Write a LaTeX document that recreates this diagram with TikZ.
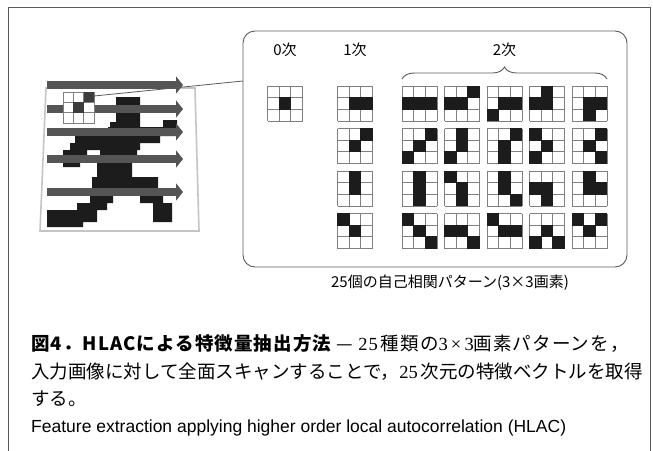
\documentclass[tikz,border=0pt]{standalone}
\usepackage{fontspec}
\setmainfont{Liberation Sans}
\newfontfamily\jp{Noto Sans CJK JP}
\newfontfamily\jpwide{Noto Sans CJK JP}[LetterSpace=6]
\newfontfamily\mincho{Liberation Serif}
\newfontfamily\minchowide{Liberation Serif}[LetterSpace=6]
\usetikzlibrary{arrows.meta,positioning,decorations.pathreplacing}
\definecolor{rulegray}{HTML}{5A5A5A}
\definecolor{gridgray}{HTML}{808080}
\definecolor{scangray}{HTML}{555555}
\definecolor{pixblack}{HTML}{1C1C1C}
\definecolor{wingray}{HTML}{3C3C3C}
\definecolor{photoedge}{HTML}{C4C4C4}
\newcommand\cellw{11.67}
\tikzset{
  % 枠
  outer/.style={draw=rulegray,line width=1pt},
  panel/.style={draw=rulegray,line width=0.9pt,rounded corners=12pt,
                minimum width=384pt,minimum height=236pt,inner sep=0pt},
  photo/.style={draw=photoedge,fill=white,line width=1.6pt},
  % 走査矢印
  scan/.style={draw=scangray,line width=8pt,-{Triangle[length=7pt,width=17pt]}},
  zoomline/.style={draw=rulegray,line width=0.8pt},
  % パターン
  gridline/.style={draw=gridgray,line width=0.9pt},
  brace2/.style={draw=rulegray,line width=0.9pt,
                 decorate,decoration={brace,amplitude=12pt}},
  % 文字
  ordlbl/.style={font=\jp\fontsize{15}{15}\selectfont,inner sep=0pt},
  panelcap/.style={font=\jp\fontsize{15}{16}\selectfont,inner sep=0pt},
  capjp/.style={font=\jp\fontsize{18.5}{18.5}\selectfont,inner sep=0pt,anchor=west},
  capen/.style={font=\fontsize{17.5}{17.5}\selectfont,inner sep=0pt,anchor=west},
}
% 3x3 の自己相関パターン: #1,#2 = 左上, #3 = 黒画素 (1..9)
\newcommand\hlacpat[3]{%
  \fill[white] (#1,#2) rectangle ++(3*\cellw,3*\cellw);
  \foreach \c in {0,1,2,3}{%
    \draw[gridline] ({#1+\c*\cellw},#2) -- ++(0,3*\cellw);
    \draw[gridline] (#1,{#2+\c*\cellw}) -- ++(3*\cellw,0);
  }%
  \foreach \k in {#3}{%
    \pgfmathtruncatemacro\pcol{mod(\k-1,3)}%
    \pgfmathtruncatemacro\prow{div(\k-1,3)}%
    \fill[pixblack] ({#1+\pcol*\cellw-0.45},{#2+\prow*\cellw-0.45})
      rectangle ++(\cellw+0.9,\cellw+0.9);
  }%
}

\begin{document}
\begin{tikzpicture}[x=1pt,y=-1pt]
  \useasboundingbox (0,0) rectangle (653,450);
  % 外枠
  \draw[outer] (8,451) -- (8,7.5) -- (650.5,7.5) -- (650.5,451);

  % 入力画像 (走る人)
  \draw[photo] (46,88) -- (195,88) -- (199,231) -- (40,231) -- cycle;
  \fill[pixblack]
    (116,97) rectangle (140,123)   % 頭
    (110,122) rectangle (140,128)
    (163,120) rectangle (177,130)  % 右手
    (150,127) rectangle (177,136)
    (108,127) rectangle (165,136)
    (75,136) rectangle (160,143)
    (70,143) rectangle (140,150)   % 左腕
    (63,150) rectangle (87,160)
    (63,160) rectangle (80,167)
    (100,150) rectangle (137,160)  % 胴
    (97,160) rectangle (132,177)
    (92,177) rectangle (158,188)   % 腰と右脚
    (140,188) rectangle (163,203)
    (153,203) rectangle (172,222)
    (90,188) rectangle (113,203)   % 左脚
    (77,203) rectangle (107,210)
    (47,210) rectangle (97,222)
    (47,222) rectangle (83,227);

  % 走査
  \foreach \y [count=\i] in {85,109,132,159,192}{
    \coordinate (scanL\i) at (47,\y);
    \coordinate (scanR\i) at (183,\y);
    \draw[scan] (scanL\i) -- (scanR\i);
  }

  % 3x3 の窓
  \foreach \k in {1,...,9}{
    \pgfmathtruncatemacro\pcol{mod(\k-1,3)}
    \pgfmathtruncatemacro\prow{div(\k-1,3)}
    \coordinate (win\k) at ({63+\pcol*10.3},{92+\prow*10.3});
    \draw[draw=gridgray,line width=0.8pt,fill=white] (win\k) rectangle ++(10.3,10.3);
  }
  \fill[wingray] (win3) rectangle ++(10.3,10.3);
  \fill[wingray] (win5) rectangle ++(10.3,10.3);

  % パターン一覧
  \node[panel] (panel) at (435,149) {};
  \coordinate (zoomA) at (94,96);
  \coordinate (zoomB) at (243,81);
  \draw[zoomline] (zoomA) -- (zoomB);

  \node[ordlbl] (ord0) at (285,50) {0次};
  \node[ordlbl] (ord1) at (355,50) {1次};
  \node[ordlbl] (ord2) at (504.5,50) {2次};
  \coordinate (braceL) at (402,79);
  \coordinate (braceR) at (607,79);
  \draw[brace2] (braceL) -- (braceR);

  % 0次
  \hlacpat{267.5}{86}{5}
  % 1次
  \hlacpat{337.5}{86}{5,6}
  \hlacpat{337.5}{128.5}{3,5}
  \hlacpat{337.5}{171}{2,5}
  \hlacpat{337.5}{213.5}{1,5}
  % 2次
  \hlacpat{402}{86}{4,5,6}
  \hlacpat{444.5}{86}{3,4,5}
  \hlacpat{487}{86}{5,6,7}
  \hlacpat{529.5}{86}{2,4,5}
  \hlacpat{572}{86}{5,6,8}
  \hlacpat{402}{128.5}{3,5,7}
  \hlacpat{444.5}{128.5}{2,5,7}
  \hlacpat{487}{128.5}{3,5,8}
  \hlacpat{529.5}{128.5}{1,5,7}
  \hlacpat{572}{128.5}{3,5,9}
  \hlacpat{402}{171}{2,5,8}
  \hlacpat{444.5}{171}{1,5,8}
  \hlacpat{487}{171}{2,5,9}
  \hlacpat{529.5}{171}{4,5,8}
  \hlacpat{572}{171}{2,5,6}
  \hlacpat{402}{213.5}{1,5,9}
  \hlacpat{444.5}{213.5}{4,5,9}
  \hlacpat{487}{213.5}{1,5,6}
  \hlacpat{529.5}{213.5}{5,7,9}
  \hlacpat{572}{213.5}{1,3,5}

  \node[panelcap] (pcap) at (450,283) {25個の自己相関パターン(3×3画素)};

  % キャプション
  \node[capjp] (cap1) at (31,344) {\jpwide{\bfseries 図4．HLACによる特徴量抽出方法}\ —\ {\minchowide 25\,}種類の{\minchowide 3\,×\,3}画素パターンを，};
  \node[capjp] (cap2) at (31,372) {入力画像に対して全面スキャンすることで，{\mincho 25\,}次元の特徴ベクトルを取得};
  \node[capjp] (cap3) at (31,399) {する。};
  \node[capen] (cap4) at (31,428) {Feature extraction applying higher order local autocorrelation (HLAC)};
\end{tikzpicture}
\end{document}
